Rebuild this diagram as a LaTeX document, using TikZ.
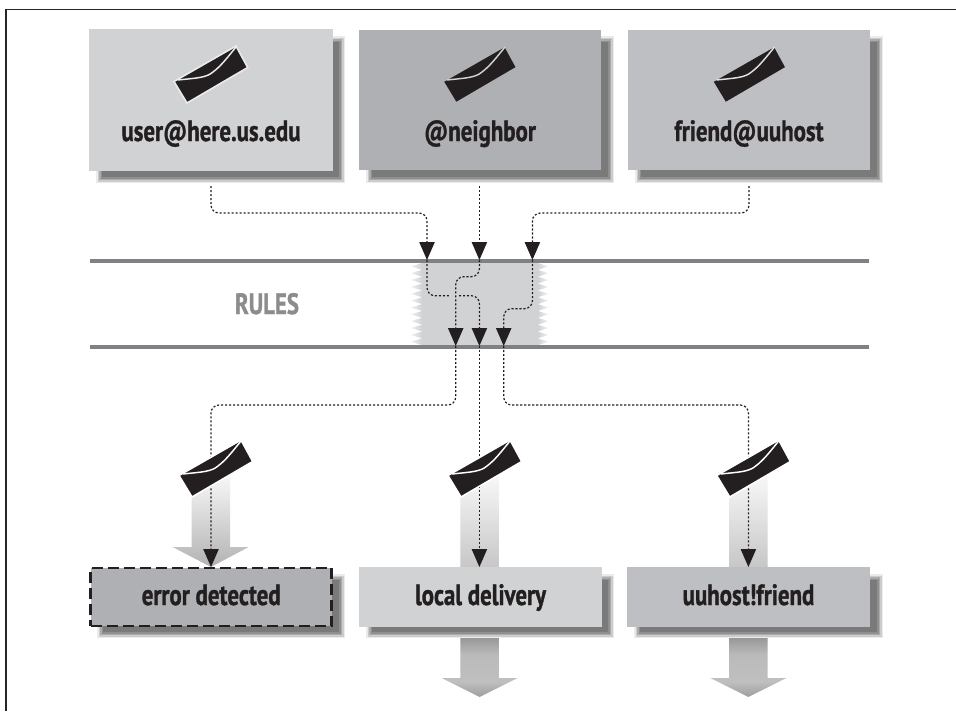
\documentclass[tikz,border=0pt]{standalone}
\usepackage{fontspec}
\usetikzlibrary{arrows.meta,calc}
\newfontfamily\lblfont[FakeStretch=0.78,BoldFeatures={FakeBold=1.1}]{PT Sans}
\definecolor{boxA}{RGB}{209,210,212}
\definecolor{boxB}{RGB}{175,176,179}
\definecolor{boxC}{RGB}{190,191,194}
\definecolor{ruleg}{RGB}{128,129,132}
\definecolor{inkk}{RGB}{35,31,32}
\pgfdeclareverticalshading{lowarrow}{100bp}{color(0bp)=(black!38); color(25bp)=(black!38); color(36bp)=(black!25); color(55bp)=(black!27); color(68bp)=(black!42); color(75bp)=(black!65); color(100bp)=(black!65)}
\tikzset{
  lbl/.style={font=\lblfont\bfseries\fontsize{22pt}{24pt}\selectfont,text=inkk},
  flowbox/.style={minimum width=#1*0.75pt,inner sep=0pt,outer sep=0pt,text height=16pt,text depth=4pt,lbl},
  route/.style={draw=inkk,line width=0.9pt,dash pattern=on 1.6pt off 1.4pt,rounded corners=6pt},
  tip/.style={-{Triangle[length=13.5pt,width=11.5pt,inkk]}},
  ruleline/.style={draw=ruleg,line width=3pt},
}
\newcommand{\softshadow}[4]{%
  \fill[black!8] (#1,#2) rectangle (#3,#4);
  \fill[black!20] (#1+1.5,#2+1.5) rectangle (#3-1.5,#4-1.5);
  \fill[black!33] (#1+3,#2+3) rectangle (#3-3,#4-3);
  \fill[black!44] (#1+4.5,#2+4.5) rectangle (#3-4.5,#4-4.5);
  \fill[black!52] (#1+6,#2+6) rectangle (#3-6,#4-6);
}
\newcommand{\envelope}[4]{%
  \begin{scope}[shift={(#1,#2)}]
    \fill[inkk,draw=#3,line width=1.2pt,line join=miter]
      (-37,7.5) -- (25,-28) -- (36.7,-6.5) -- (-24,29) -- cycle;
    \draw[#4,line width=1.1pt] (-33,6) .. controls (-15,4) and (-5,4) .. (2,-2)
      .. controls (10,-8) and (16,-16) .. (25,-27);
  \end{scope}}
\newcommand{\gradarrow}[2]{%
  \shade[top color=white,bottom color=#2] (#1-19.3,478) -- (#1+19.3,462) -- (#1+19.3,567) -- (#1-19.3,567) -- cycle;}
\newcommand{\lowarrow}[1]{%
  \shade[shading=lowarrow] (#1-19.3,626) -- (#1+19.3,626) -- (#1+19.3,678) -- (#1+38,678) -- (#1,697) -- (#1-38,678) -- (#1-19.3,678) -- cycle;}
\begin{document}
\begin{tikzpicture}[x=0.75pt,y=-0.75pt]
\useasboundingbox (0,0) rectangle (956,711);
\fill[white] (0,0) rectangle (956,711);
\draw[black!85,line width=0.9pt] (6,711) -- (6,9.5) -- (956,9.5);
\shade[top color=white,bottom color=black!30] (191.7,485) -- (230,465) -- (230,547) -- (248.7,547) -- (211,567) -- (172.7,547) -- (191.7,547) -- cycle;
\gradarrow{479.6}{black!22}
\gradarrow{748.4}{black!22}
\lowarrow{479.6}
\lowarrow{748.4}
\softshadow{96}{36}{345}{183}
\softshadow{366}{36}{614}{183}
\softshadow{635}{36}{883}{183}
\softshadow{97}{574}{345}{638}
\softshadow{366}{574}{614}{638}
\softshadow{634}{574}{883}{638}
\fill[boxA] (422,263) rectangle (538,345);
\foreach \k in {0,...,11}{
  \shade[left color=black!6,right color=boxA] (422,263+\k*6.85) -- (411,266.4+\k*6.85) -- (422,269.85+\k*6.85) -- cycle;
  \shade[right color=black!6,left color=boxA] (538,263+\k*6.85) -- (548,266.4+\k*6.85) -- (538,269.85+\k*6.85) -- cycle;
}
\coordinate (ruleTopL) at (90,261); \coordinate (ruleTopR) at (869,261);
\coordinate (ruleBotL) at (90,347); \coordinate (ruleBotR) at (869,347);
\draw[ruleline] (ruleTopL) -- (ruleTopR);
\draw[ruleline] (ruleBotL) -- (ruleBotR);
\node[flowbox=244,minimum height=106.5pt,fill=boxA,anchor=north west] (user) at (89,29) {};
\node[flowbox=242,minimum height=105pt,fill=boxB,anchor=north west] (neigh) at (359,30) {};
\node[flowbox=242,minimum height=105pt,fill=boxC,anchor=north west] (friend) at (628,30) {};
\node[lbl,anchor=base] (userT) at (211,141) {user@here.us.edu};
\node[lbl,anchor=base] (neighT) at (480,141) {@neighbor};
\node[lbl,anchor=base] (friendT) at (749,141) {friend@uuhost};
\node[lbl,text=black!45,anchor=base] (rules) at (267,314) {RULES};
\node[flowbox=241,minimum height=43.5pt,fill=boxB,anchor=north west,draw=inkk,line width=2pt,dash pattern=on 8.25pt off 3.75pt] (err) at (90.7,568) {error detected};
\node[flowbox=243,minimum height=45pt,fill=boxA,anchor=north west] (local) at (359,567) {local delivery};
\node[flowbox=243,minimum height=45pt,fill=boxC,anchor=north west] (uu) at (627,567) {uuhost!friend};
\coordinate (a1) at (211,186); \coordinate (a2) at (479.4,186); \coordinate (a3) at (749,186);
\coordinate (t1) at (427,260); \coordinate (t2) at (479.4,260); \coordinate (t3) at (532.4,260);
\coordinate (b1) at (455.7,346); \coordinate (b2) at (479.4,346); \coordinate (b3) at (503.7,346);
\coordinate (gap1) at (450,295.7); \coordinate (gap2) at (459,295.7);
\coordinate (e1) at (211,567); \coordinate (e2) at (479.4,567); \coordinate (e3) at (748.4,567);
\draw[route,tip] (a1) |- (t1 |- 0,213) -- (t1);
\draw[route,tip] (a2) -- (t2);
\draw[route,tip] (a3) |- (t3 |- 0,213) -- (t3);
\draw[route] (t1) |- (gap1);
\draw[route,tip] (gap2) -| (b2);
\draw[route,tip] (t2) |- (b1 |- 0,276.7) -- (b1);
\draw[route,tip] (t3) |- (b3 |- 0,308.7) -- (b3);
\draw[route,tip] (b1) |- (e1 |- 0,405) -- (e1);
\draw[route,tip] (b2) -- (e2);
\draw[route,tip] (b3) |- (e3 |- 0,405) -- (e3);
\envelope{211}{74}{black!8}{black!8}
\envelope{480}{74}{boxB}{black!18}
\envelope{749.5}{74}{boxC}{black!12}
\envelope{216}{468}{white}{white}
\envelope{485}{468}{white}{white}
\envelope{753.7}{468}{white}{white}
\end{tikzpicture}
\end{document}
